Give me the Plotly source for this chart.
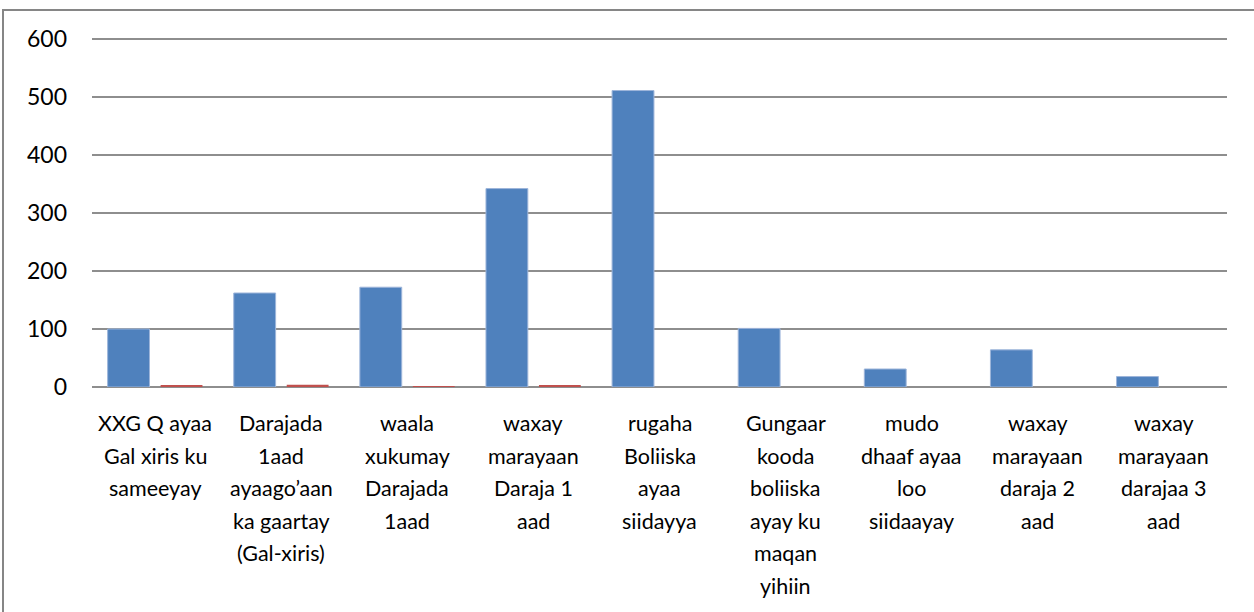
import plotly.graph_objects as go

categories = [
    "XXG Q ayaa<br>Gal xiris ku<br>sameeyay",
    "Darajada<br>1aad<br>ayaago’aan<br>ka gaartay<br>(Gal-xiris)",
    "waala<br>xukumay<br>Darajada<br>1aad",
    "waxay<br>marayaan<br>Daraja 1<br>aad",
    "rugaha<br>Boliiska<br>ayaa<br>siidayya",
    "Gungaar<br>kooda<br>boliiska<br>ayay ku<br>maqan<br>yihiin",
    "mudo<br>dhaaf ayaa<br>loo<br>siidaayay",
    "waxay<br>marayaan<br>daraja 2<br>aad",
    "waxay<br>marayaan<br>darajaa 3<br>aad",
]
series1 = [100, 162, 172, 342, 511, 101, 31, 64, 18]
series2 = [2, 4, 1.5, 3, 0, 0, 0, 0, 0]
y_ticks = [0, 100, 200, 300, 400, 500, 600]

FONT = "Lato"
GRID = "#8E8E8E"
PLOT_T = 36
PLOT_B = 387
PLOT_H = PLOT_B - PLOT_T   # plot-area height in px
LINE_GAP = 32.6            # spacing between label lines in px
FIRST_LINE = 36            # px below the axis to the centre of the first label line

xs = list(range(len(categories)))
fig = go.Figure()
fig.add_trace(go.Bar(x=xs, y=series1, name="Series 1",
                     marker=dict(color="#4F81BD", line=dict(color="#9DB5DA", width=1))))
fig.add_trace(go.Bar(x=xs, y=series2, name="Series 2",
                     marker=dict(color="#C0504D", line=dict(width=0))))

fig.update_layout(
    width=1254, height=612,
    margin=dict(l=92, r=27, t=PLOT_T, b=612 - PLOT_B),
    paper_bgcolor="white", plot_bgcolor="white",
    showlegend=False,
    barmode="group", bargap=0.16, bargroupgap=0.21,
    font=dict(family=FONT, size=21, color="black"),
)
fig.update_xaxes(
    range=[-0.5, len(categories) - 0.5],
    showgrid=False, showline=False, zeroline=False, ticks="",
    showticklabels=False,
)
fig.update_yaxes(
    range=[0, 605], tickvals=y_ticks, ticktext=[str(v) for v in y_ticks],
    showgrid=True, gridcolor=GRID, gridwidth=1.5,
    zeroline=True, zerolinecolor=GRID, zerolinewidth=1.5,
    showline=False, ticks="",
    tickfont=dict(family=FONT, size=23, color="black"),
    ticklabelstandoff=24,
)
# category labels, one annotation per line (Excel-like line spacing)
for xi, label in zip(xs, categories):
    for li, line in enumerate(label.split("<br>")):
        fig.add_annotation(x=xi, xref="x", y=-(FIRST_LINE + li * LINE_GAP) / PLOT_H, yref="paper",
                           text=line, showarrow=False, xanchor="center", yanchor="middle",
                           font=dict(family=FONT, size=21.5, color="black"))
# chart area frame (extends beyond the visible page on the right and bottom)
fig.add_shape(type="rect", xref="paper", yref="paper",
              x0=(3 - 92) / 1135, x1=(1260 - 92) / 1135,
              y0=-(620 - PLOT_B) / PLOT_H, y1=(PLOT_B - 10) / PLOT_H,
              line=dict(color="#868686", width=2), fillcolor="rgba(0,0,0,0)", layer="below")

fig.write_html("out.html", config={"displayModeBar": False},
               post_script="document.body.style.margin='0px';")
